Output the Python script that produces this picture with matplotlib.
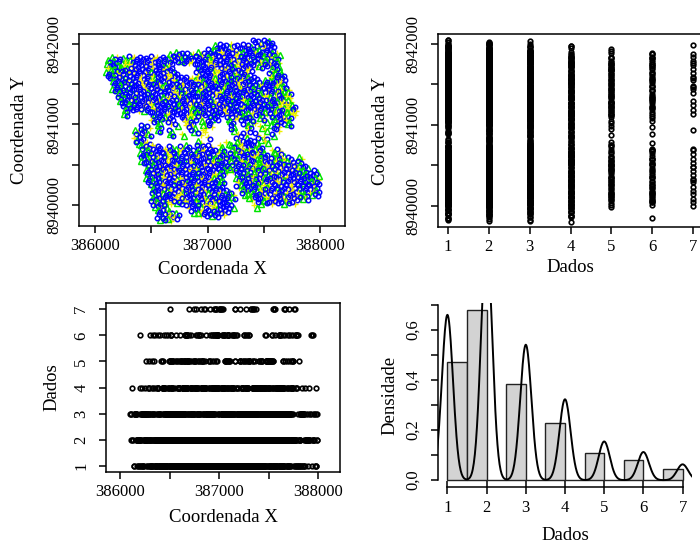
import matplotlib
matplotlib.use("Agg")
import matplotlib.pyplot as plt
import numpy as np

plt.rcParams['font.family'] = 'Liberation Serif'

# malha de amostragem (m): pontos A nos nós, pontos B no centro das
# células; linhas e colunas desencontradas em frações de passo
x_inicio = 386100
y_inicio = 8942050
passo = 50
desloc = [0, 0.25, 0.125, 0.375]

# valores observados por linha da malha, de norte para sul:
# (coluna inicial, valores), '.' = ponto sem amostra
linhas_a = [
    [(26, "1213")],
    [(19, "3217122.412")],
    [(18, "231152122342")],
    [(11, "33126321141273252236")],
    [(1, "343262124132512273621152112343")],
    [(0, "3325312162112324117122542416323")],
    [(0, "323462125214"), (16, "214521261123272")],
    [(0, "433122116251"), (16, "1125261127"), (29, "32")],
    [(0, "3362111432152"), (16, "2114512617"), (29, "233")],
    [(0, "231211524126212452231721132"), (29, "422")],
    [(1, "3221261421251117314112562213324")],
    [(1, "2321151263114221721131521262143")],
    [(1, "31221142151732124112621513221362")],
    [(2, "3211221.11427132165121152312433")],
    [(2, "23221112361421212.1251221253426")],
    [(2, "3212122512116412152212732212353")],
    [(3, "2312271212324152126122321132543")],
    [(3, "3221162121413122217225122123242")],
    [(3, "3"), (8, "21161124321125121352314237")],
    [(8, "2132"), (13, "1542.21"), (21, "21632"), (27, "3.2143")],
    [(8, "51.2"), (14, "61.32"), (22, "3..21"), (28, "2.314")],
    [(6, "21.3"), (12, "2.45"), (17, "31"), (22, "1.23"), (27, "4.32.3")],
    [(5, "32"), (9, "3.1"), (15, "2.7"), (22, "2..4"), (28, "5.2")],
    [(5, "213"), (11, "3.6"), (16, "1"), (23, "41.2"), (29, "2")],
    [(5, "42"), (18, "4"), (23, "2.3"), (27, "14")],
    [(5, "216"), (16, "3"), (21, "5.3212"), (28, "4")],
    [(6, "3251"), (11, "2.13"), (16, "212"), (20, "4"), (22, "335123")],
    [(6, "231251372126213"), (22, "317432"), (29, "62")],
    [(6, "3212142712321153"), (22, "2361243"), (30, "32")],
    [(6, "2315261211422312"), (22, "13224312371"), (34, "3")],
    [(6, "3121151127121432"), (22, "3254232163322")],
    [(7, "232116112251211"), (22, "22134352171232")],
    [(7, "312241217521123"), (22, "31225132141163"), (37, "2")],
    [(7, "21152412211263"), (23, "223312741212322")],
    [(7, "32162151214132"), (23, "321413227521223")],
    [(7, "23121421121713"), (23, "412352162212131")],
    [(8, "2241216251123"), (23, "232134721142112")],
    [(8, "32151412261222"), (24, "32241212172123")],
    [(8, "213125126132431"), (24, "23312161725342")],
    [(8, "321241211721123"), (25, "31252162214")],
    [(8, "23152261317412"), (27, "2312162")],
    [(8, "212"), (14, "221475122"), (26, "4")],
    [(9, "313"), (15, "2142212")],
    [(9, "2143"), (16, "31122")],
    [(9, "2136")],
]

linhas_b = [
    [(26, "2312")],
    [(19, "21312431212")],
    [(18, "312253113221")],
    [(11, "21331422161432213123")],
    [(1, "213422151142322113261221331242")],
    [(0, "1235124213321142127613241225324")],
    [(0, "213362421132"), (16, "312241352152213")],
    [(0, "321451222413"), (16, "2236412351"), (29, "43")],
    [(0, "2143512221461"), (16, "3124213321"), (29, "312")],
    [(0, "123426133142215321452331721"), (29, "341")],
    [(1, "2143152314136124213122413352242")],
    [(1, "1332261231225431322421372321431")],
    [(1, "22314235124133261423132124352234")],
    [(2, "2134132215431231263413122453132")],
    [(2, "1243261342312251321232413162234")],
    [(2, "2331452231421362341321324352425")],
    [(3, "1324231263143124521331242236352")],
    [(3, "2243152312241361342132253241434")],
    [(3, "2"), (8, "32412253423126413412432354")],
    [(8, "3241"), (13, "2314.32"), (21, "34123"), (27, "4.3212")],
    [(8, "23.4"), (14, "52.41"), (22, "2..34"), (28, "3.423")],
    [(6, "34.2"), (12, "3.13"), (17, "46"), (22, "3.41"), (27, "3.24.2")],
    [(5, "41"), (9, "2.3"), (15, "3.4"), (22, "3..2"), (28, "3.4")],
    [(5, "342"), (11, "2.3"), (16, "4"), (23, "25.4"), (29, "3")],
    [(5, "31"), (18, "2"), (23, "4.2"), (27, "32")],
    [(5, "342"), (16, "4"), (21, "3.4123"), (28, "3")],
    [(6, "4152"), (11, "3.41"), (16, "324"), (20, "3"), (22, "261342")],
    [(6, "342151423462231"), (22, "423143"), (29, "34")],
    [(6, "2341353142263424"), (22, "3124512"), (30, "43")],
    [(6, "1432413352143164"), (22, "24313463152"), (34, "4")],
    [(6, "2315422143264213"), (22, "4132351322461")],
    [(7, "314253413226132"), (22, "31423173225313")],
    [(7, "243162241352214"), (22, "42313453216232"), (37, "3")],
    [(7, "34215241322461"), (23, "341453132263213")],
    [(7, "21342353241723"), (23, "234152413261324")],
    [(7, "32413252316232"), (23, "324134252413262")],
    [(8, "3152421361322"), (23, "413253132413261")],
    [(8, "24352342162413"), (24, "41354132413262")],
    [(8, "342154231463124"), (24, "34153413263231")],
    [(8, "231453142316232"), (25, "42354236132")],
    [(8, "41353142361321"), (27, "3241324")],
    [(8, "343"), (14, "413243213"), (26, "3")],
    [(9, "241"), (15, "3413241")],
    [(9, "3412"), (16, "42314")],
    [(9, "3241")],
]

# histograma dos dados (densidade por classe)
classes = [1, 2, 3, 4, 5, 6, 7]
densidade_hist = [0.47, 0.68, 0.385, 0.23, 0.11, 0.08, 0.045]
largura_classe = 0.5
banda = 0.142

xs, ys, vs, lin = [], [], [], []
for meio, tabela in [(0.0, linhas_a), (0.5, linhas_b)]:
    for i, linha in enumerate(tabela):
        for col0, valores in linha:
            for j, ch in enumerate(valores):
                if ch != '.':
                    c = col0 + j
                    xs.append(x_inicio + (c + meio + desloc[i % 4]) * passo)
                    ys.append(y_inicio - (i + meio + desloc[c % 4]) * passo)
                    vs.append(int(ch))
                    lin.append(i)
x = np.array(xs)
y = np.array(ys)
dados = np.array(vs)
lin = np.array(lin)

W, H = 700, 543
fig = plt.figure(figsize=(W / 100, H / 100), dpi=100)


def eixos(l, t, r, b):
    return fig.add_axes([l / W, 1 - b / H, (r - l) / W, (b - t) / H])


def estilo(ax):
    ax.tick_params(direction='out', length=5, width=1.1, labelsize=12, pad=4)
    ax.tick_params(axis='y', pad=7)
    for s in ax.spines.values():
        s.set_linewidth(1.1)


def rotulos(ax, xl, yl, dx, dy):
    bb = ax.get_position()
    wpx, hpx = bb.width * W, bb.height * H
    ax.set_xlabel(xl, fontsize=13.5, va='center')
    ax.set_ylabel(yl, fontsize=13.5, va='center')
    ax.xaxis.set_label_coords(0.5, -dx / hpx)
    ax.yaxis.set_label_coords(-dy / wpx, 0.5)


xlim = (385858, 388221)
ylim = (8939739, 8942124)
xt = [386000, 386500, 387000, 387500, 388000]
xtl = ['386000', '', '387000', '', '388000']
yt = [8940000, 8940500, 8941000, 8941500, 8942000]
ytl = ['8940000', '', '8941000', '', '8942000']

# coordenadas com símbolos por quartil
ax1 = eixos(79, 34, 345, 226)
grupos = [(dados >= 4, '+', '#eeee00', 5.0, 1.0),
          (dados == 3, '^', '#00e400', 4.6, 1.05),
          (dados <= 2, 'o', '#0000ff', 3.2, 1.1)]
for i in range(len(linhas_a)):
    for mask, m, c, ms, mw in grupos:
        sel = mask & (lin == i)
        ax1.plot(x[sel], y[sel], ls='none', marker=m, ms=ms, mfc='none',
                 mec=c, mew=mw)
ax1.set_xlim(xlim)
ax1.set_ylim(ylim)
ax1.set_xticks(xt, xtl)
ax1.set_yticks(yt, ytl, rotation=90, va='center')
estilo(ax1)
rotulos(ax1, 'Coordenada X', 'Coordenada Y', 44, 59)

# dados x coordenada Y
ax2 = eixos(438, 34, 703, 227)
ax2.plot(dados, y, ls='none', marker='o', ms=3.3, mfc='none', mec='black',
         mew=1.2)
ax2.set_xlim(0.76, 7.24)
ax2.set_ylim(ylim)
ax2.set_xticks(classes)
ax2.set_yticks(yt, ytl, rotation=90, va='center')
estilo(ax2)
rotulos(ax2, 'Dados', 'Coordenada Y', 41, 57)

# coordenada X x dados
ax3 = eixos(106, 303, 340, 472)
ax3.plot(x, dados, ls='none', marker='o', ms=3.3, mfc='none', mec='black',
         mew=1.2)
ax3.set_xlim(xlim)
ax3.set_ylim(0.76, 7.24)
ax3.set_xticks(xt, xtl)
ax3.set_yticks(classes, [str(c) for c in classes], rotation=90, va='center')
estilo(ax3)
rotulos(ax3, 'Coordenada X', 'Dados', 46, 54)

# histograma com densidade estimada
ax4 = eixos(438, 303, 692, 487)
bordas = np.arange(1, 7.01, largura_classe)
alturas = np.zeros(len(bordas) - 1)
for c, d in zip(classes, densidade_hist):
    k = max(int(np.ceil((c - bordas[0]) / largura_classe)) - 1, 0)
    alturas[k] = d
ax4.bar(bordas[:-1], alturas, width=largura_classe, align='edge',
        color='#d3d3d3', edgecolor='#222222', linewidth=1)
prob = np.array(densidade_hist) * largura_classe
t = np.linspace(classes[0] - 3 * banda, classes[-1] + 3 * banda, 512)
dens = np.zeros_like(t)
for c, p in zip(classes, prob):
    dens += p * np.exp(-0.5 * ((t - c) / banda) ** 2) / (banda * np.sqrt(2 * np.pi))
ax4.plot(t, dens, color='black', lw=1.4)
ax4.vlines(classes, 0, 0.03, transform=ax4.get_xaxis_transform(),
           color='black', lw=1.1)
ax4.set_xlim(0.76, 7.24)
ax4.set_ylim(-0.0272, 0.7072)
ax4.set_xticks(classes)
yt4 = np.round(np.arange(0, 0.71, 0.1), 1)
ax4.set_yticks(yt4, [f'{v:.1f}'.replace('.', ',') if i % 2 == 0 else ''
                     for i, v in enumerate(yt4)], rotation=90, va='center')
for s in ['top', 'right']:
    ax4.spines[s].set_visible(False)
ax4.spines['left'].set_bounds(0, 0.7)
ax4.spines['bottom'].set_bounds(1, 7)
estilo(ax4)
rotulos(ax4, 'Dados', 'Densidade', 48, 48)

fig.savefig('out.png', dpi=100)
